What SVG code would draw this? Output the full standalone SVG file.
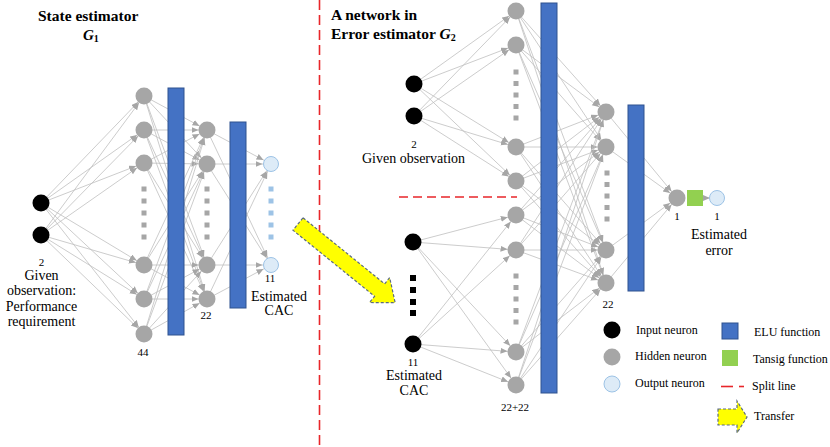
<svg xmlns="http://www.w3.org/2000/svg" width="830" height="447" viewBox="0 0 830 447" font-family="'Liberation Serif', 'DejaVu Serif', serif">
<defs>
<style>
text, tspan{font-family:'Liberation Serif','DejaVu Serif',serif;fill:#000}
.t{font-size:15.5px;font-weight:bold}
.l{font-size:14px;text-anchor:middle}
.n{font-size:11px;text-anchor:middle}
.lg{font-size:12px}
.in{fill:#000}
.hd{fill:#a6a6a6}
.out{fill:#ddebf7;stroke:#9dc3e6;stroke-width:1}
.bar{fill:#4472c4;stroke:#2f528f;stroke-width:1}
.dg{fill:#a6a6a6}
.db{fill:#9dc3e6}
.dk{fill:#000}
.c{stroke:#bfbfbf;stroke-width:0.8;fill:none;marker-end:url(#ah)}
.split{stroke:#e8262a;stroke-width:1.6;stroke-dasharray:10 5;fill:none}
.arrow{fill:#ffff00;stroke:#5b6b80;stroke-width:1.2;stroke-dasharray:3 2}
</style>
<marker id="ah" markerUnits="userSpaceOnUse" markerWidth="20" markerHeight="8" refX="15.5" refY="3" orient="auto"><path d="M0,0 L7,3 L0,6 z" fill="#a6a6a6"/></marker>
<marker id="ah0" markerUnits="userSpaceOnUse" markerWidth="10" markerHeight="8" refX="7" refY="3" orient="auto"><path d="M0,0 L7,3 L0,6 z" fill="#a6a6a6"/></marker>
</defs>
<rect width="830" height="447" fill="#fff"/>

<g id="connectors">
<line class="c" x1="41" y1="203" x2="144" y2="96"/>
<line class="c" x1="41" y1="203" x2="144" y2="130"/>
<line class="c" x1="41" y1="203" x2="144" y2="163"/>
<line class="c" x1="41" y1="203" x2="144" y2="265"/>
<line class="c" x1="41" y1="203" x2="144" y2="299"/>
<line class="c" x1="41" y1="203" x2="144" y2="334"/>
<line class="c" x1="41" y1="235" x2="144" y2="96"/>
<line class="c" x1="41" y1="235" x2="144" y2="130"/>
<line class="c" x1="41" y1="235" x2="144" y2="163"/>
<line class="c" x1="41" y1="235" x2="144" y2="265"/>
<line class="c" x1="41" y1="235" x2="144" y2="299"/>
<line class="c" x1="41" y1="235" x2="144" y2="334"/>
<line class="c" x1="144" y1="96" x2="207" y2="130"/>
<line class="c" x1="144" y1="96" x2="207" y2="164"/>
<line class="c" x1="144" y1="96" x2="207" y2="265"/>
<line class="c" x1="144" y1="96" x2="207" y2="299"/>
<line class="c" x1="144" y1="130" x2="207" y2="130"/>
<line class="c" x1="144" y1="130" x2="207" y2="164"/>
<line class="c" x1="144" y1="130" x2="207" y2="265"/>
<line class="c" x1="144" y1="130" x2="207" y2="299"/>
<line class="c" x1="144" y1="163" x2="207" y2="130"/>
<line class="c" x1="144" y1="163" x2="207" y2="164"/>
<line class="c" x1="144" y1="163" x2="207" y2="265"/>
<line class="c" x1="144" y1="163" x2="207" y2="299"/>
<line class="c" x1="144" y1="265" x2="207" y2="130"/>
<line class="c" x1="144" y1="265" x2="207" y2="164"/>
<line class="c" x1="144" y1="265" x2="207" y2="265"/>
<line class="c" x1="144" y1="265" x2="207" y2="299"/>
<line class="c" x1="144" y1="299" x2="207" y2="130"/>
<line class="c" x1="144" y1="299" x2="207" y2="164"/>
<line class="c" x1="144" y1="299" x2="207" y2="265"/>
<line class="c" x1="144" y1="299" x2="207" y2="299"/>
<line class="c" x1="144" y1="334" x2="207" y2="130"/>
<line class="c" x1="144" y1="334" x2="207" y2="164"/>
<line class="c" x1="144" y1="334" x2="207" y2="265"/>
<line class="c" x1="144" y1="334" x2="207" y2="299"/>
<line class="c" x1="207" y1="130" x2="271" y2="164"/>
<line class="c" x1="207" y1="130" x2="271" y2="265"/>
<line class="c" x1="207" y1="164" x2="271" y2="164"/>
<line class="c" x1="207" y1="164" x2="271" y2="265"/>
<line class="c" x1="207" y1="265" x2="271" y2="164"/>
<line class="c" x1="207" y1="265" x2="271" y2="265"/>
<line class="c" x1="207" y1="299" x2="271" y2="164"/>
<line class="c" x1="207" y1="299" x2="271" y2="265"/>
<line class="c" x1="414" y1="84" x2="516" y2="11"/>
<line class="c" x1="414" y1="84" x2="516" y2="45"/>
<line class="c" x1="414" y1="84" x2="516" y2="147"/>
<line class="c" x1="414" y1="84" x2="516" y2="181"/>
<line class="c" x1="414" y1="116" x2="516" y2="11"/>
<line class="c" x1="414" y1="116" x2="516" y2="45"/>
<line class="c" x1="414" y1="116" x2="516" y2="147"/>
<line class="c" x1="414" y1="116" x2="516" y2="181"/>
<line class="c" x1="413" y1="242" x2="516" y2="215"/>
<line class="c" x1="413" y1="242" x2="516" y2="250"/>
<line class="c" x1="413" y1="242" x2="516" y2="352"/>
<line class="c" x1="413" y1="242" x2="516" y2="385"/>
<line class="c" x1="413" y1="344" x2="516" y2="215"/>
<line class="c" x1="413" y1="344" x2="516" y2="250"/>
<line class="c" x1="413" y1="344" x2="516" y2="352"/>
<line class="c" x1="413" y1="344" x2="516" y2="385"/>
<line class="c" x1="516" y1="11" x2="606" y2="112"/>
<line class="c" x1="516" y1="11" x2="606" y2="147"/>
<line class="c" x1="516" y1="11" x2="606" y2="250"/>
<line class="c" x1="516" y1="11" x2="606" y2="283"/>
<line class="c" x1="516" y1="45" x2="606" y2="112"/>
<line class="c" x1="516" y1="45" x2="606" y2="147"/>
<line class="c" x1="516" y1="45" x2="606" y2="250"/>
<line class="c" x1="516" y1="45" x2="606" y2="283"/>
<line class="c" x1="516" y1="147" x2="606" y2="112"/>
<line class="c" x1="516" y1="147" x2="606" y2="147"/>
<line class="c" x1="516" y1="147" x2="606" y2="250"/>
<line class="c" x1="516" y1="147" x2="606" y2="283"/>
<line class="c" x1="516" y1="181" x2="606" y2="112"/>
<line class="c" x1="516" y1="181" x2="606" y2="147"/>
<line class="c" x1="516" y1="181" x2="606" y2="250"/>
<line class="c" x1="516" y1="181" x2="606" y2="283"/>
<line class="c" x1="516" y1="215" x2="606" y2="112"/>
<line class="c" x1="516" y1="215" x2="606" y2="147"/>
<line class="c" x1="516" y1="215" x2="606" y2="250"/>
<line class="c" x1="516" y1="215" x2="606" y2="283"/>
<line class="c" x1="516" y1="250" x2="606" y2="112"/>
<line class="c" x1="516" y1="250" x2="606" y2="147"/>
<line class="c" x1="516" y1="250" x2="606" y2="250"/>
<line class="c" x1="516" y1="250" x2="606" y2="283"/>
<line class="c" x1="516" y1="352" x2="606" y2="112"/>
<line class="c" x1="516" y1="352" x2="606" y2="147"/>
<line class="c" x1="516" y1="352" x2="606" y2="250"/>
<line class="c" x1="516" y1="352" x2="606" y2="283"/>
<line class="c" x1="516" y1="385" x2="606" y2="112"/>
<line class="c" x1="516" y1="385" x2="606" y2="147"/>
<line class="c" x1="516" y1="385" x2="606" y2="250"/>
<line class="c" x1="516" y1="385" x2="606" y2="283"/>
<line class="c" x1="606" y1="112" x2="677" y2="198"/>
<line class="c" x1="606" y1="147" x2="677" y2="198"/>
<line class="c" x1="606" y1="250" x2="677" y2="198"/>
<line class="c" x1="606" y1="283" x2="677" y2="198"/>
<line x1="703" y1="198" x2="710" y2="198" stroke="#bfbfbf" stroke-width="0.8" marker-end="url(#ah0)"/>
</g>

<line id="vsplit" class="split" x1="319.5" y1="0" x2="319.5" y2="447"/>
<line id="hsplit" class="split" x1="399" y1="197" x2="517" y2="197" style="stroke-dasharray:9 5"/>

<g id="title-left">
<text class="t" x="38" y="21">State estimator</text>
<text x="83" y="40" style="font-size:15px;font-weight:bold;font-style:italic">G<tspan style="font-size:10px;font-style:normal" dy="2">1</tspan></text>
</g>
<g id="title-right">
<text class="t" x="331" y="20">A network in</text>
<text class="t" x="331" y="39">Error estimator <tspan style="font-style:italic">G</tspan><tspan style="font-size:10px" dy="2">2</tspan></text>
</g>

<g id="left-bars">
<rect class="bar" x="168" y="88" width="16" height="247"/>
<rect class="bar" x="230" y="122" width="16" height="186"/>
</g>
<g id="left-input">
<circle class="in" cx="41" cy="203" r="8.5"/>
<circle class="in" cx="41" cy="235" r="8.5"/>
<text class="n" x="41.5" y="266">2</text>
<text class="l" x="41.5" y="280">Given</text>
<text class="l" x="41.5" y="295">observation:</text>
<text class="l" x="41.5" y="311">Performance</text>
<text class="l" x="41.5" y="326">requirement</text>
</g>
<g id="left-hidden1">
<circle class="hd" cx="144" cy="96" r="8.5"/>
<circle class="hd" cx="144" cy="130" r="8.5"/>
<circle class="hd" cx="144" cy="163" r="8.5"/>
<circle class="hd" cx="144" cy="265" r="8.5"/>
<circle class="hd" cx="144" cy="299" r="8.5"/>
<circle class="hd" cx="144" cy="334" r="8.5"/>
<rect class="dg" x="141.5" y="186.5" width="5" height="5"/>
<rect class="dg" x="141.5" y="198.5" width="5" height="5"/>
<rect class="dg" x="141.5" y="210.5" width="5" height="5"/>
<rect class="dg" x="141.5" y="222.5" width="5" height="5"/>
<rect class="dg" x="141.5" y="234.5" width="5" height="5"/>
<text class="n" x="143" y="356">44</text>
</g>
<g id="left-hidden2">
<circle class="hd" cx="207" cy="130" r="8.5"/>
<circle class="hd" cx="207" cy="164" r="8.5"/>
<circle class="hd" cx="207" cy="265" r="8.5"/>
<circle class="hd" cx="207" cy="299" r="8.5"/>
<rect class="dg" x="204.5" y="186.5" width="5" height="5"/>
<rect class="dg" x="204.5" y="198.5" width="5" height="5"/>
<rect class="dg" x="204.5" y="210.5" width="5" height="5"/>
<rect class="dg" x="204.5" y="222.5" width="5" height="5"/>
<rect class="dg" x="204.5" y="234.5" width="5" height="5"/>
<text class="n" x="206" y="319">22</text>
</g>
<g id="left-output">
<circle class="out" cx="271" cy="164" r="7.5"/>
<circle class="out" cx="271" cy="265" r="7.5"/>
<rect class="db" x="268.5" y="186.5" width="5" height="5"/>
<rect class="db" x="268.5" y="198.5" width="5" height="5"/>
<rect class="db" x="268.5" y="210.5" width="5" height="5"/>
<rect class="db" x="268.5" y="222.5" width="5" height="5"/>
<rect class="db" x="268.5" y="234.5" width="5" height="5"/>
<text class="n" x="270" y="282">11</text>
<text class="l" x="279" y="300.5">Estimated</text>
<text class="l" x="279" y="315">CAC</text>
</g>

<g id="transfer-arrow">
<polygon class="arrow" transform="translate(298,224) rotate(39)" points="0,-8 105,-8 105,-16 125,0 105,16 105,8 0,8"/>
</g>

<g id="right-bars">
<rect class="bar" x="541" y="3" width="16" height="390"/>
<rect class="bar" x="628" y="105" width="16" height="186"/>
</g>
<g id="right-input-obs">
<circle class="in" cx="414" cy="84" r="8.5"/>
<circle class="in" cx="414" cy="116" r="8.5"/>
<text class="n" x="414" y="148">2</text>
<text class="l" x="413.5" y="163">Given observation</text>
</g>
<g id="right-input-cac">
<circle class="in" cx="413" cy="242" r="8.5"/>
<circle class="in" cx="413" cy="344" r="8.5"/>
<rect class="dk" x="410" y="275" width="6" height="6"/>
<rect class="dk" x="410" y="287" width="6" height="6"/>
<rect class="dk" x="410" y="299" width="6" height="6"/>
<rect class="dk" x="410" y="310" width="6" height="6"/>
<text class="n" x="413" y="366">11</text>
<text class="l" x="414" y="380">Estimated</text>
<text class="l" x="414" y="395">CAC</text>
</g>
<g id="right-hidden1">
<circle class="hd" cx="516" cy="11" r="8.5"/>
<circle class="hd" cx="516" cy="45" r="8.5"/>
<circle class="hd" cx="516" cy="147" r="8.5"/>
<circle class="hd" cx="516" cy="181" r="8.5"/>
<circle class="hd" cx="516" cy="215" r="8.5"/>
<circle class="hd" cx="516" cy="250" r="8.5"/>
<circle class="hd" cx="516" cy="352" r="8.5"/>
<circle class="hd" cx="516" cy="385" r="8.5"/>
<rect class="dg" x="513.5" y="69.5" width="5" height="5"/>
<rect class="dg" x="513.5" y="81" width="5" height="5"/>
<rect class="dg" x="513.5" y="92.5" width="5" height="5"/>
<rect class="dg" x="513.5" y="104" width="5" height="5"/>
<rect class="dg" x="513.5" y="115.5" width="5" height="5"/>
<rect class="dg" x="513.5" y="273.5" width="5" height="5"/>
<rect class="dg" x="513.5" y="285" width="5" height="5"/>
<rect class="dg" x="513.5" y="296.5" width="5" height="5"/>
<rect class="dg" x="513.5" y="308" width="5" height="5"/>
<rect class="dg" x="513.5" y="319.5" width="5" height="5"/>
<text class="n" x="515" y="410.5">22+22</text>
</g>
<g id="right-hidden2">
<circle class="hd" cx="606" cy="112" r="8.5"/>
<circle class="hd" cx="606" cy="147" r="8.5"/>
<circle class="hd" cx="606" cy="250" r="8.5"/>
<circle class="hd" cx="606" cy="283" r="8.5"/>
<rect class="dg" x="604.5" y="170.5" width="5" height="5"/>
<rect class="dg" x="604.5" y="182" width="5" height="5"/>
<rect class="dg" x="604.5" y="193.5" width="5" height="5"/>
<rect class="dg" x="604.5" y="205" width="5" height="5"/>
<rect class="dg" x="604.5" y="216.5" width="5" height="5"/>
<text class="n" x="608" y="307.5">22</text>
</g>
<g id="right-output-hidden">
<circle class="hd" cx="677" cy="198" r="8.5"/>
<text class="n" x="677" y="220">1</text>
</g>
<g id="tansig">
<rect x="687" y="190" width="16" height="16" fill="#92d050"/>
</g>
<g id="right-output">
<circle class="out" cx="717" cy="198" r="7.5"/>
<text class="n" x="717" y="220">1</text>
<text class="l" x="719" y="239">Estimated</text>
<text class="l" x="719" y="255">error</text>
</g>

<g id="legend">
<circle class="in" cx="612" cy="330" r="8.5"/>
<text class="lg" x="636" y="334">Input neuron</text>
<circle class="hd" cx="612" cy="357" r="8.5"/>
<text class="lg" x="635" y="360">Hidden neuron</text>
<circle class="out" cx="612" cy="384" r="8"/>
<text class="lg" x="635" y="387">Output neuron</text>
<rect class="bar" x="722" y="323" width="16" height="16"/>
<text class="lg" x="754" y="336">ELU function</text>
<rect x="722" y="350" width="16" height="16" fill="#92d050"/>
<text class="lg" x="753" y="363">Tansig function</text>
<line x1="721" y1="386.5" x2="733" y2="386.5" stroke="#e8262a" stroke-width="1.6"/>
<line x1="739" y1="386.5" x2="744" y2="386.5" stroke="#e8262a" stroke-width="1.6"/>
<text class="lg" x="752" y="390">Split line</text>
<polygon class="arrow" points="718,409 737,409 737,401 747,417 737,433 737,425 718,425"/>
<text class="lg" x="754" y="420">Transfer</text>
</g>
</svg>
